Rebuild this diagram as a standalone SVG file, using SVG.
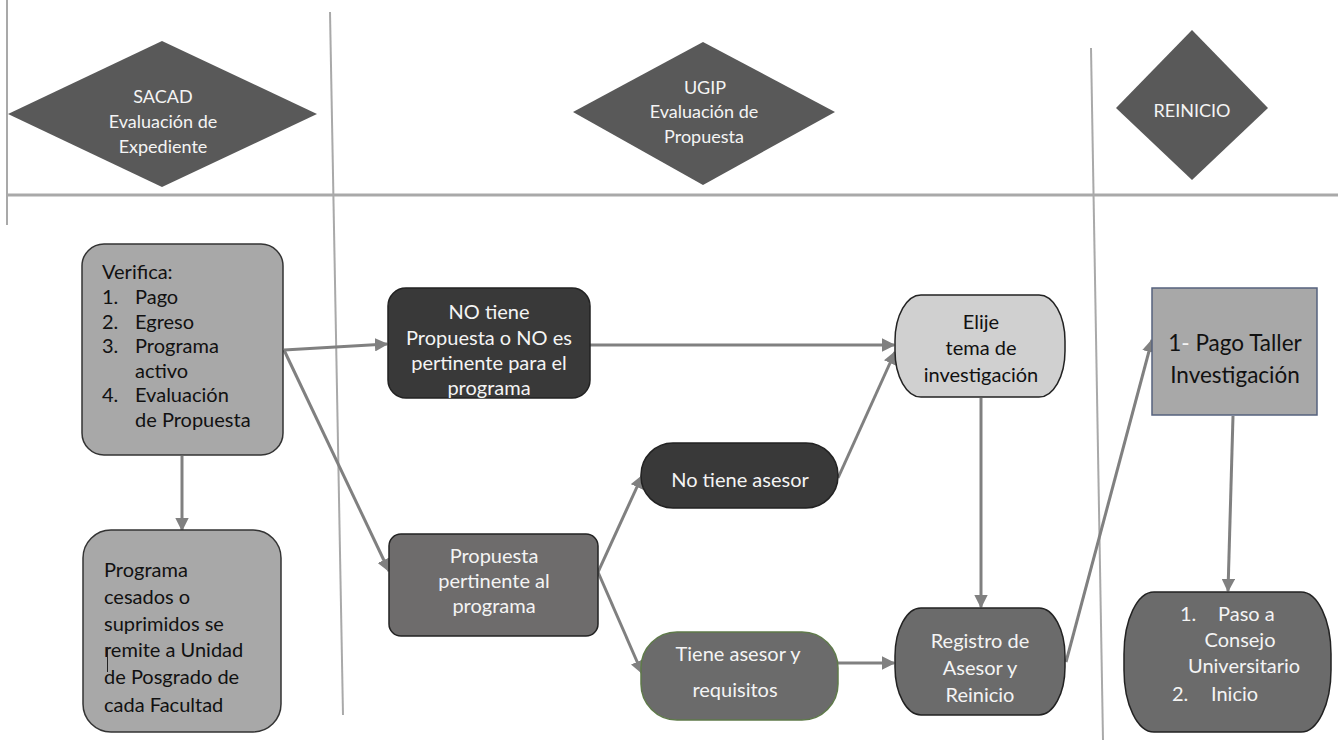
<svg xmlns="http://www.w3.org/2000/svg" width="1338" height="751" viewBox="0 0 1338 751">
<defs>
<style>
text{font-family:Lato,"Open Sans","Liberation Sans",sans-serif;font-size:20px}
.h{font-size:18px}
.w{fill:#f4f4f4}
.k{fill:#111}
.c{text-anchor:middle}
.hdr{fill:#595959}
.lane{stroke:#a9a9a9;fill:none}
.con{stroke:#808080;stroke-width:3;fill:none}
</style>
<marker id="ah" viewBox="0 0 10 10" refX="9" refY="5" markerWidth="4.5" markerHeight="4.5" orient="auto" markerUnits="strokeWidth">
<path d="M0,0 L10,5 L0,10 Z" fill="#808080"/>
</marker>
</defs>
<rect width="1338" height="751" fill="#fff"/>
<g id="lanes">
<line class="lane" x1="7" y1="0" x2="7" y2="225" stroke-width="2"/>
<line class="lane" x1="330" y1="12" x2="343" y2="715" stroke-width="2"/>
<line class="lane" x1="1091" y1="48" x2="1103" y2="740" stroke-width="2"/>
<line class="lane" x1="7" y1="195" x2="1338" y2="195" stroke-width="3"/>
</g>
<g id="hdr-sacad">
<polygon class="hdr" points="8,114 162,41 317,114 162,187"/>
<text class="w c h" x="163" y="103">SACAD</text>
<text class="w c h" x="163" y="128">Evaluación de</text>
<text class="w c h" x="163" y="153">Expediente</text>
</g>
<g id="hdr-ugip">
<polygon class="hdr" points="573,112 703,42 835,112 703,185"/>
<text class="w c h" x="705" y="94">UGIP</text>
<text class="w c h" x="704" y="118">Evaluación de</text>
<text class="w c h" x="704" y="143">Propuesta</text>
</g>
<g id="hdr-reinicio">
<polygon class="hdr" points="1116,108 1192,30 1268,108 1192,180"/>
<text class="w c h" x="1192" y="117">REINICIO</text>
</g>
<g id="connectors">
<line class="con" x1="284" y1="350" x2="387" y2="344" marker-end="url(#ah)"/>
<line class="con" x1="284" y1="350" x2="389" y2="571" marker-end="url(#ah)"/>
<line class="con" x1="182" y1="456" x2="182" y2="530" marker-end="url(#ah)"/>
<line class="con" x1="590" y1="345" x2="894" y2="345" marker-end="url(#ah)"/>
<line class="con" x1="838" y1="478" x2="895" y2="352" marker-end="url(#ah)"/>
<line class="con" x1="598" y1="572" x2="642" y2="476" marker-end="url(#ah)"/>
<line class="con" x1="598" y1="572" x2="642" y2="673" marker-end="url(#ah)"/>
<line class="con" x1="838" y1="663" x2="894" y2="663" marker-end="url(#ah)"/>
<line class="con" x1="981" y1="398" x2="981" y2="607" marker-end="url(#ah)"/>
<line class="con" x1="1066" y1="662" x2="1152" y2="340" marker-end="url(#ah)"/>
<line class="con" x1="1233" y1="416" x2="1228" y2="591" marker-end="url(#ah)"/>
</g>
<g id="verifica">
<rect x="82" y="244" width="201" height="211" rx="22" fill="#a8a8a8" stroke="#333" stroke-width="1.5"/>
<text class="k" x="102" y="279">Verifica:</text>
<text class="k" x="102" y="304">1.</text><text class="k" x="135" y="304">Pago</text>
<text class="k" x="102" y="329">2.</text><text class="k" x="135" y="329">Egreso</text>
<text class="k" x="102" y="353">3.</text><text class="k" x="135" y="353">Programa</text>
<text class="k" x="135" y="378">activo</text>
<text class="k" x="102" y="402">4.</text><text class="k" x="135" y="402">Evaluación</text>
<text class="k" x="135" y="427">de Propuesta</text>
</g>
<g id="cesados">
<rect x="83" y="530" width="198" height="202" rx="28" fill="#a8a8a8" stroke="#333" stroke-width="1.5"/>
<text class="k" x="104" y="577">Programa</text>
<text class="k" x="104" y="604">cesados o</text>
<text class="k" x="104" y="631">suprimidos se</text>
<text class="k" x="104" y="657">remite a Unidad</text>
<text class="k" x="104" y="684">de Posgrado de</text>
<text class="k" x="104" y="712">cada Facultad</text>
<line x1="107.5" y1="647" x2="107.5" y2="672" stroke="#222" stroke-width="1"/>
</g>
<g id="no-propuesta">
<rect x="388" y="288" width="202" height="110" rx="18" fill="#393939" stroke="#222" stroke-width="1.5"/>
<text class="w c" x="489" y="319">NO tiene</text>
<text class="w c" x="489" y="345">Propuesta o NO es</text>
<text class="w c" x="489" y="370">pertinente para el</text>
<text class="w c" x="489" y="395">programa</text>
</g>
<g id="propuesta-pertinente">
<rect x="389" y="534" width="209" height="102" rx="12" fill="#6e6c6c" stroke="#222" stroke-width="1.5"/>
<text class="w c" x="494" y="563">Propuesta</text>
<text class="w c" x="494" y="588">pertinente al</text>
<text class="w c" x="494" y="613">programa</text>
</g>
<g id="no-asesor">
<rect x="641" y="443" width="197" height="65" rx="32" fill="#393939" stroke="#222" stroke-width="1.5"/>
<text class="w c" x="740" y="487">No tiene asesor</text>
</g>
<g id="tiene-asesor">
<rect x="641" y="632" width="197" height="88" rx="36" fill="#6b6b6b" stroke="#5f7a4a" stroke-width="1.5"/>
<text class="w c" x="738" y="661">Tiene asesor y</text>
<text class="w c" x="735" y="697">requisitos</text>
</g>
<g id="elije">
<rect x="895" y="295" width="170" height="102" rx="26" ry="46" fill="#d0d0d0" stroke="#222" stroke-width="1.5"/>
<text class="k c" x="981" y="329">Elije</text>
<text class="k c" x="981" y="355">tema de</text>
<text class="k c" x="981" y="382">investigación</text>
</g>
<g id="registro">
<rect x="895" y="608" width="170" height="107" rx="26" ry="48" fill="#6b6b6b" stroke="#222" stroke-width="1.5"/>
<text class="w c" x="980" y="648">Registro de</text>
<text class="w c" x="980" y="675">Asesor y</text>
<text class="w c" x="980" y="702">Reinicio</text>
</g>
<g id="pago">
<rect x="1152" y="288" width="165" height="127" fill="#a8a8a8" stroke="#55627e" stroke-width="1.5"/>
<text class="k c" x="1235" y="351" style="font-size:22.5px">1<tspan class="w">-</tspan> Pago Taller</text>
<text class="k c" x="1235" y="383" style="font-size:22.5px">Investigación</text>
</g>
<g id="paso">
<rect x="1124" y="592" width="207" height="140" rx="30" ry="62" fill="#6b6b6b" stroke="#222" stroke-width="1.5"/>
<text class="w" x="1180" y="621">1.</text><text class="w" x="1218" y="621">Paso a</text>
<text class="w c" x="1240" y="647">Consejo</text>
<text class="w" x="1188" y="673">Universitario</text>
<text class="w" x="1172" y="701">2.</text><text class="w" x="1211" y="701">Inicio</text>
</g>
</svg>
